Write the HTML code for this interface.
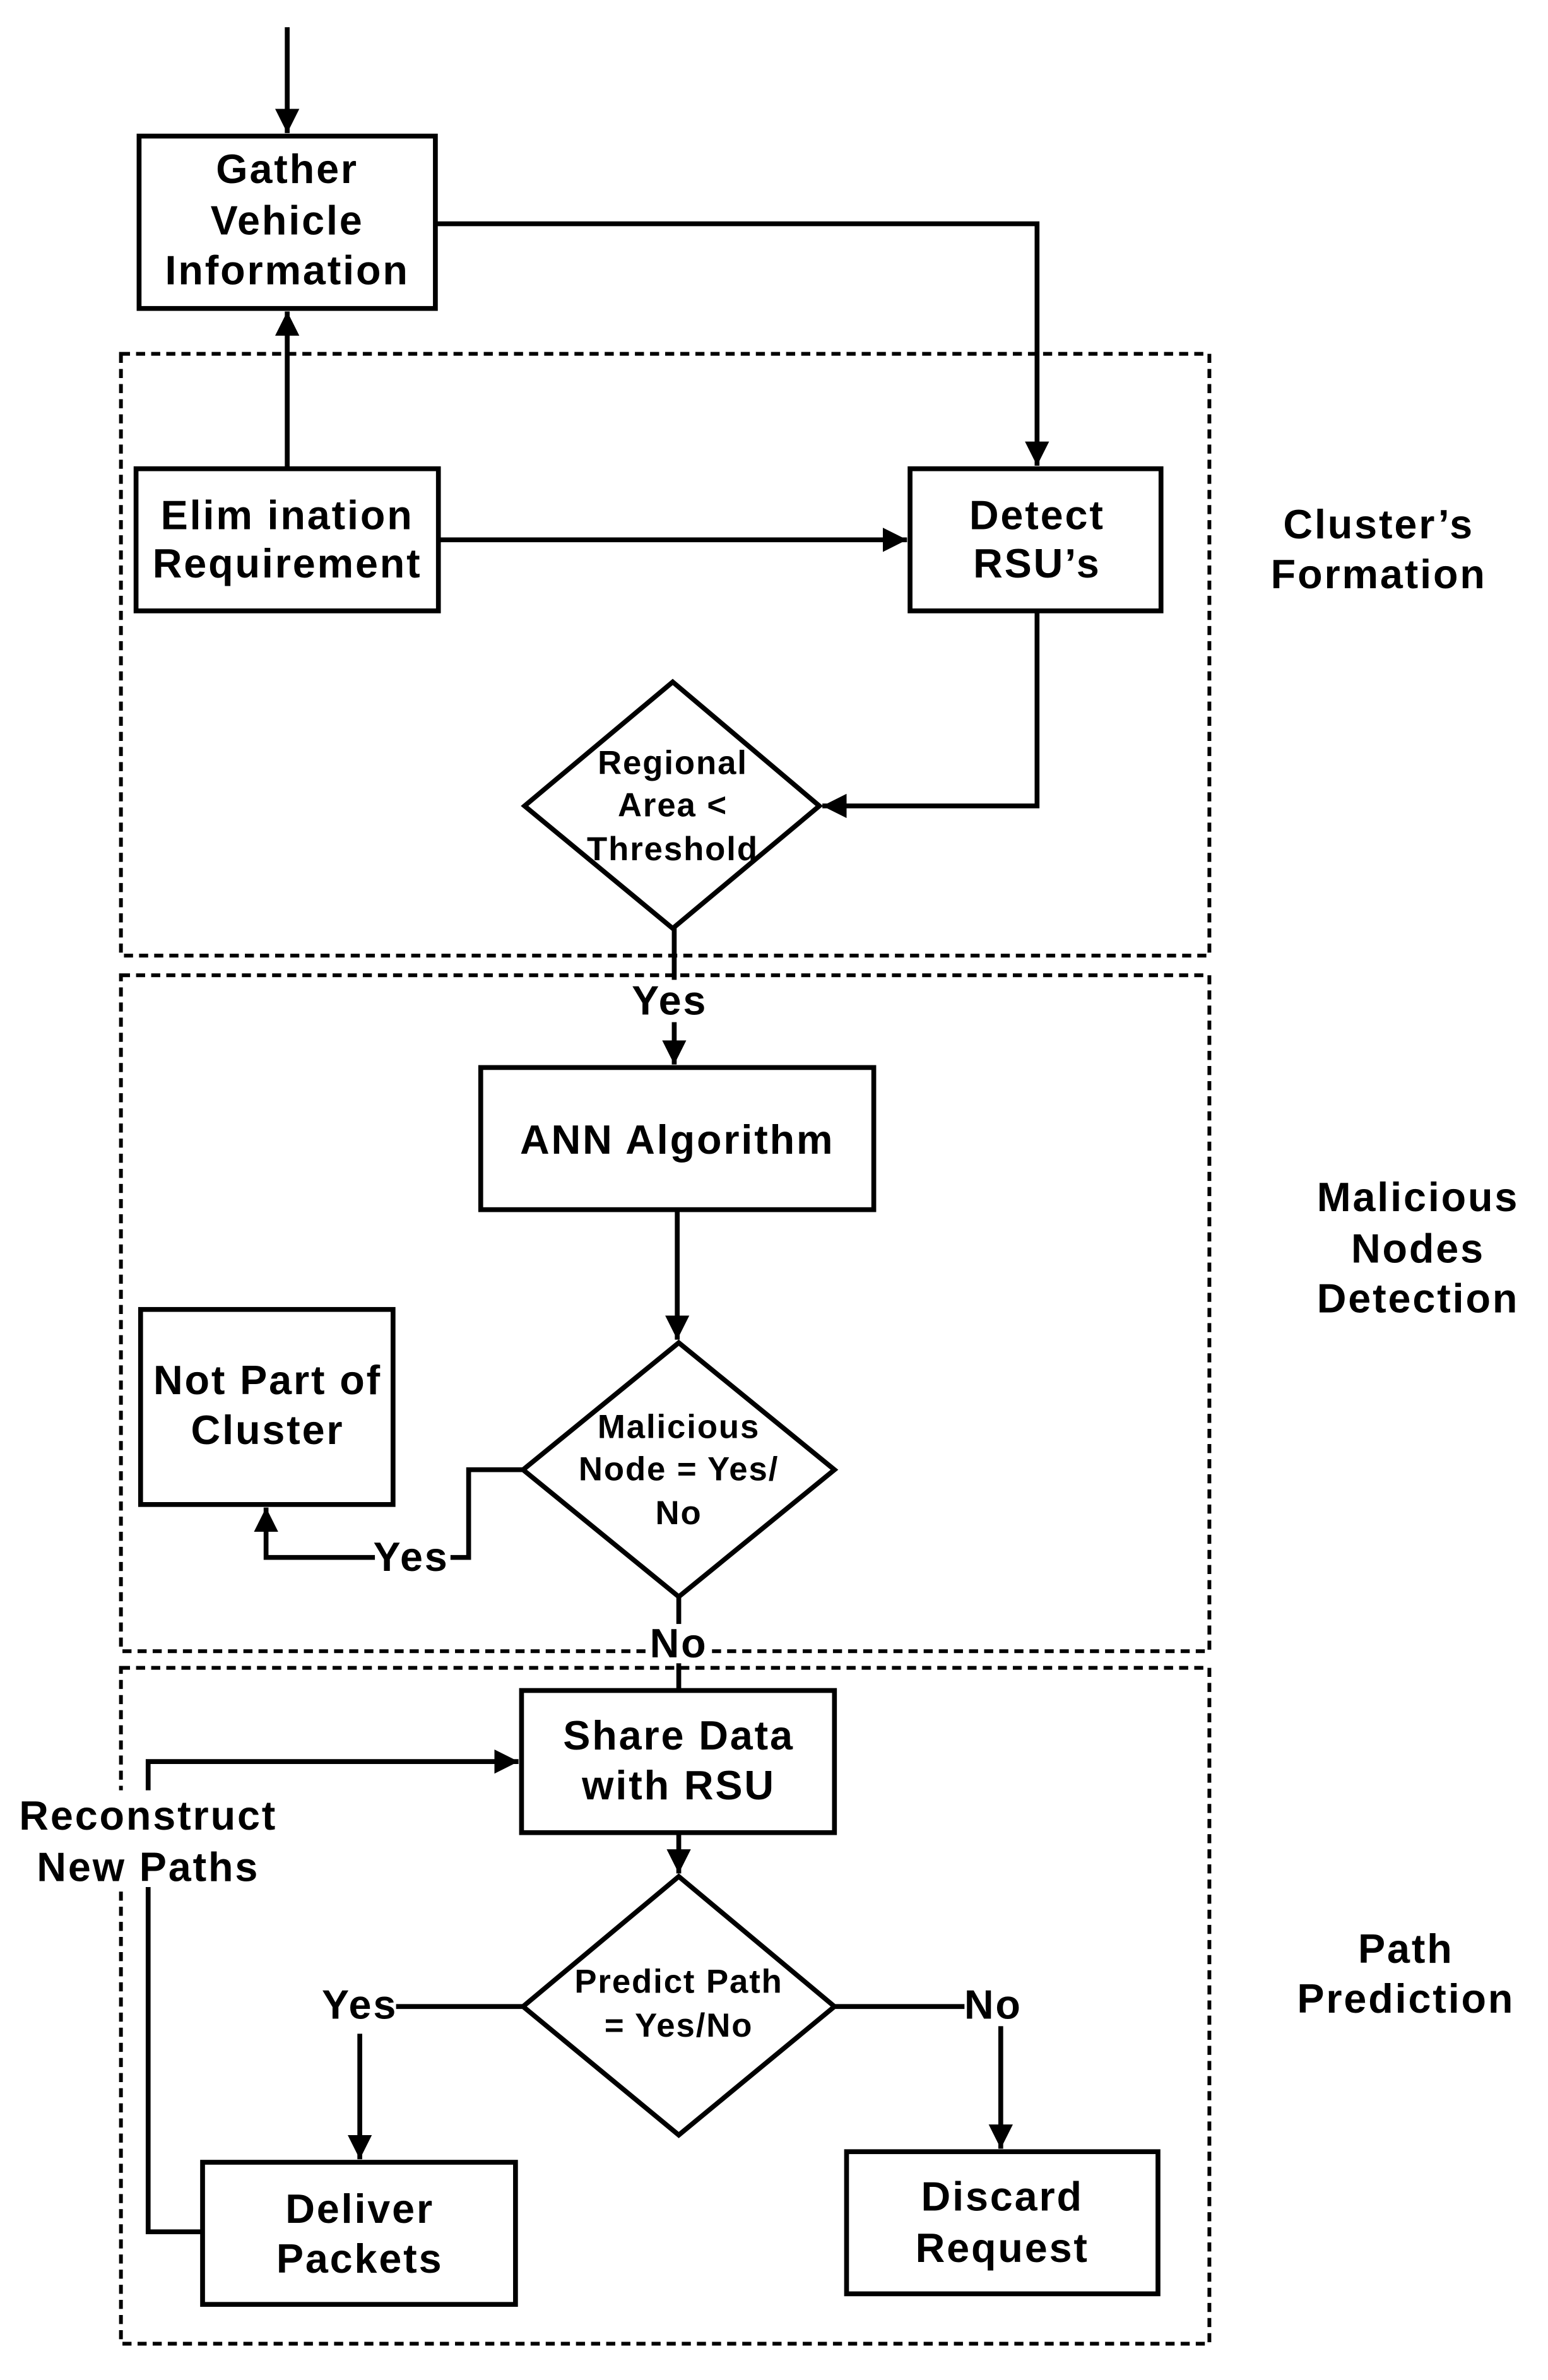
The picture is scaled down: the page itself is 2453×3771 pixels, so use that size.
<!DOCTYPE html>
<html><head><meta charset="utf-8"><style>
html,body{margin:0;padding:0;background:#fff;}
svg{display:block;}
text{font-family:"Liberation Sans",Arial,sans-serif;font-weight:bold;fill:#000;text-anchor:middle;}
.big text{letter-spacing:1.2px;}
.sm text{letter-spacing:0.8px;}
</style></head><body>
<svg width="2453" height="3771" viewBox="0 0 1024 1574" preserveAspectRatio="none" xmlns="http://www.w3.org/2000/svg">
<defs>
<marker id="b" viewBox="0 0 10 10" markerWidth="16" markerHeight="18" refX="10" refY="5" orient="auto" markerUnits="userSpaceOnUse">
<path d="M0,0 L10,5 L0,10 z" fill="#000"/>
</marker>
</defs>
<g fill="none" stroke="#000" stroke-width="2.5" stroke-dasharray="6,4">
<rect x="80" y="234" width="720" height="398"/>
<rect x="80" y="645" width="720" height="447"/>
<rect x="80" y="1103" width="720" height="447"/>
</g>
<g fill="#fff" stroke="#000" stroke-width="3.2">
<rect x="92" y="90" width="196" height="114"/>
<rect x="90" y="310" width="200" height="94"/>
<rect x="602" y="310" width="166" height="94"/>
<rect x="318" y="706" width="260" height="94"/>
<rect x="93" y="866" width="167" height="129"/>
<rect x="345" y="1118" width="207" height="94"/>
<rect x="134" y="1430" width="207" height="94"/>
<rect x="560" y="1423" width="206" height="94"/>
<polygon points="445,451 542,533 445,614 347,533"/>
<polygon points="449,888 552,972 449,1056 346,972"/>
<polygon points="449,1241 552,1327 449,1412 346,1327"/>
</g>
<g fill="none" stroke="#000" stroke-width="3.2">
<line x1="190" y1="18" x2="190" y2="88" marker-end="url(#b)"/>
<polyline points="288,148 686,148 686,308" marker-end="url(#b)"/>
<line x1="190" y1="310" x2="190" y2="206" marker-end="url(#b)"/>
<line x1="290" y1="357" x2="600" y2="357" marker-end="url(#b)"/>
<polyline points="686,404 686,533 544,533" marker-end="url(#b)"/>
<line x1="446" y1="614" x2="446" y2="704" marker-end="url(#b)"/>
<line x1="448" y1="800" x2="448" y2="886" marker-end="url(#b)"/>
<polyline points="346,972 310,972 310,1030 176,1030 176,997" marker-end="url(#b)"/>
<line x1="449" y1="1056" x2="449" y2="1118"/>
<line x1="449" y1="1212" x2="449" y2="1239" marker-end="url(#b)"/>
<line x1="346" y1="1327" x2="262" y2="1327"/>
<line x1="238" y1="1345" x2="238" y2="1428" marker-end="url(#b)"/>
<line x1="552" y1="1327" x2="638" y2="1327"/>
<line x1="662" y1="1340" x2="662" y2="1421" marker-end="url(#b)"/>
<polyline points="134,1476 98,1476 98,1165 343,1165" marker-end="url(#b)"/>
</g>
<rect x="14" y="1184" width="170" height="64" fill="#fff"/>
<rect x="420" y="648" width="52" height="28" fill="#fff"/>
<rect x="248" y="1016" width="50" height="28" fill="#fff"/>
<rect x="428" y="1074" width="42" height="26" fill="#fff"/>
<g font-size="27" class="big">
<text x="190" y="121">Gather</text>
<text x="190" y="155">Vehicle</text>
<text x="190" y="188">Information</text>
<text x="190" y="350">Elim ination</text>
<text x="190" y="382">Requirement</text>
<text x="686" y="350">Detect</text>
<text x="686" y="382">RSU’s</text>
<text x="912" y="356">Cluster’s</text>
<text x="912" y="389">Formation</text>
<text x="448" y="763">ANN Algorithm</text>
<text x="177" y="922">Not Part of</text>
<text x="177" y="955">Cluster</text>
<text x="938" y="801">Malicious</text>
<text x="938" y="835">Nodes</text>
<text x="938" y="868">Detection</text>
<text x="449" y="1157">Share Data</text>
<text x="449" y="1190">with RSU</text>
<text x="238" y="1470">Deliver</text>
<text x="238" y="1503">Packets</text>
<text x="663" y="1462">Discard</text>
<text x="663" y="1496">Request</text>
<text x="930" y="1298">Path</text>
<text x="930" y="1331">Prediction</text>
<text x="98" y="1210">Reconstruct</text>
<text x="98" y="1244">New Paths</text>
<text x="443" y="671">Yes</text>
<text x="272" y="1039">Yes</text>
<text x="449" y="1096">No</text>
<text x="238" y="1335">Yes</text>
<text x="657" y="1335">No</text>
</g>
<g font-size="22" class="sm">
<text x="445" y="512">Regional</text>
<text x="445" y="540">Area &lt;</text>
<text x="445" y="569">Threshold</text>
<text x="449" y="951">Malicious</text>
<text x="449" y="979">Node = Yes/</text>
<text x="449" y="1008">No</text>
<text x="449" y="1318">Predict Path</text>
<text x="449" y="1347">= Yes/No</text>
</g>
</svg>
</body></html>
